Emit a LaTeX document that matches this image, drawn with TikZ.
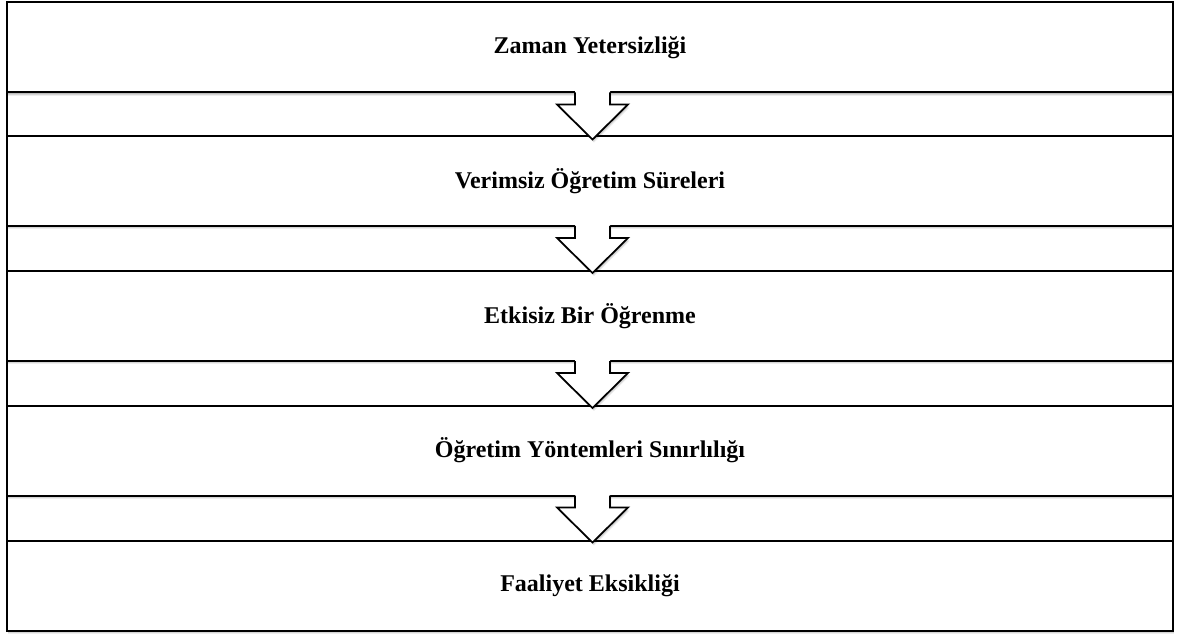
\documentclass[tikz,border=0pt]{standalone}
\usepackage{fontspec}
\setmainfont{Liberation Serif}
\usetikzlibrary{calc,shadows}
\begin{document}
\begin{tikzpicture}[x=0.75pt,y=-0.75pt,
  softshadow/.style={
    drop shadow={shadow xshift=0.4pt, shadow yshift=-0.8pt, opacity=0.12, fill=black},
    drop shadow={shadow xshift=0.8pt, shadow yshift=-1.6pt, opacity=0.10, fill=black},
    drop shadow={shadow xshift=1.1pt, shadow yshift=-2.4pt, opacity=0.07, fill=black}},
  stagebox/.style={draw=black, line width=1.5pt, fill=white, rectangle,
    minimum width=874.5pt, minimum height=67.5pt, inner sep=0pt, outer sep=0pt,
    font=\fontsize{18}{22}\selectfont\bfseries, softshadow},
  frameline/.style={draw=black, line width=0.9pt},
  arrowline/.style={draw=black, line width=1.3pt, line join=miter},
  arrowfill/.style={fill=white, softshadow}
]
\useasboundingbox (0,0) rectangle (1177,634);
\draw[frameline] (7,3) rectangle (1173,631);
\node[stagebox] (b1) at (590,47.5) {Zaman Yetersizliği};
\node[stagebox] (b2) at (590,181) {Verimsiz Öğretim Süreleri};
\node[stagebox] (b3) at (590,316) {Etkisiz Bir Öğrenme};
\node[stagebox] (b4) at (590,450.5) {Öğretim Yöntemleri Sınırlılığı};
\node[stagebox] (b5) at (590,585.5) {Faaliyet Eksikliği};
\foreach \a/\b in {b1/b2,b2/b3,b3/b4,b4/b5}{
  \coordinate (t\a) at ($(\a.south)+(2.5,0)$);
  \fill[arrowfill] ($(t\a)+(-17.5,-1.5)$) -- ($(t\a)+(-17.5,12)$) -- ($(t\a)+(-35.5,12)$)
     -- ($(t\a)+(0,47)$) -- ($(t\a)+(35.5,12)$) -- ($(t\a)+(17.5,12)$) -- ($(t\a)+(17.5,-1.5)$) -- cycle;
  \draw[arrowline] ($(t\a)+(-17.5,0)$) -- ($(t\a)+(-17.5,12)$) -- ($(t\a)+(-35.5,12)$)
     -- ($(t\a)+(0,47)$) -- ($(t\a)+(35.5,12)$) -- ($(t\a)+(17.5,12)$) -- ($(t\a)+(17.5,0)$);
}
\end{tikzpicture}
\end{document}
